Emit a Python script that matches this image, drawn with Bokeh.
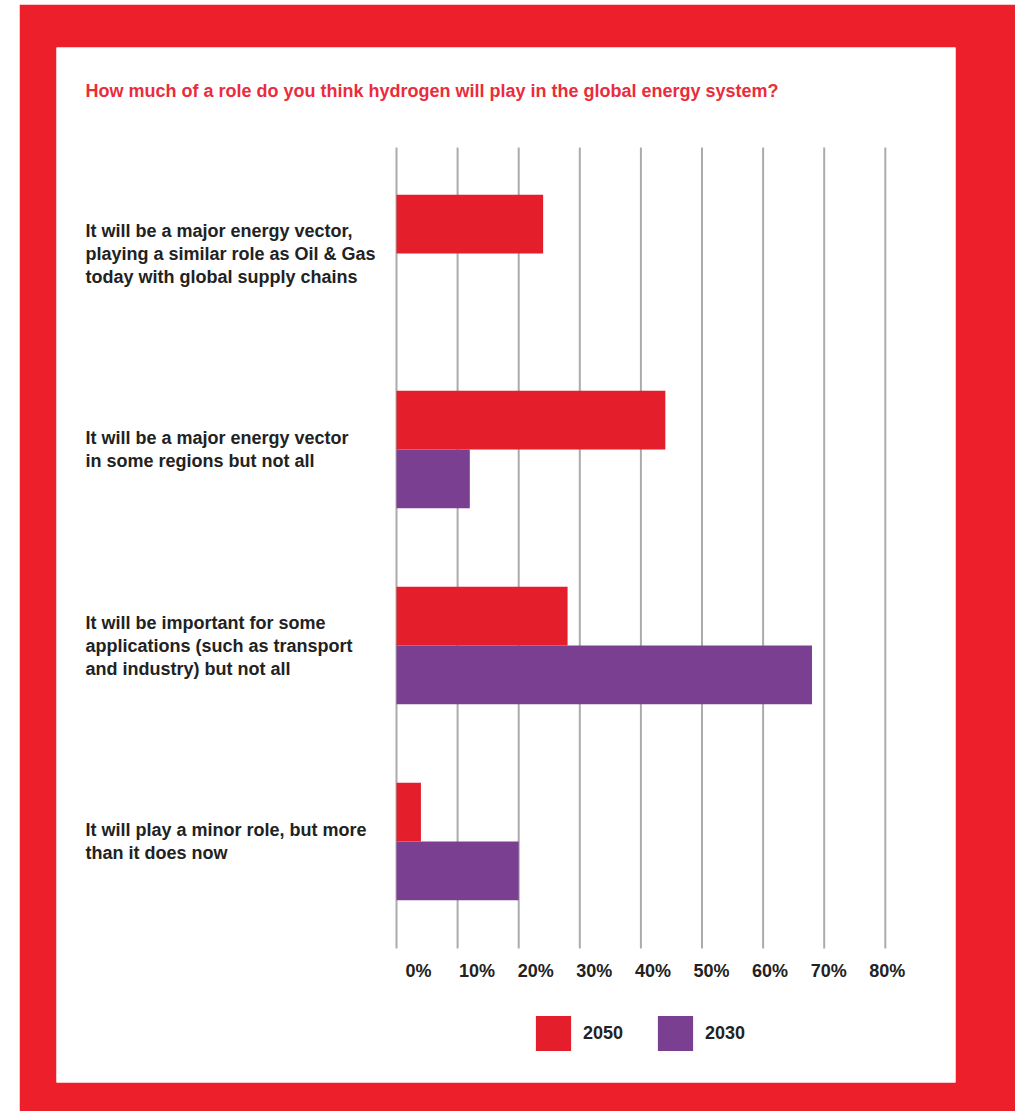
from bokeh.plotting import figure
from bokeh.models import ColumnDataSource, Range1d
from bokeh.core.properties import value
from bokeh.embed import file_html
from bokeh.resources import INLINE

# ---------------- data ----------------
title_text = "How much of a role do you think hydrogen will play in the global energy system?"
categories = [
    "It will be a major energy vector,\nplaying a similar role as Oil & Gas\ntoday with global supply chains",
    "It will be a major energy vector\nin some regions but not all",
    "It will be important for some\napplications (such as transport\nand industry) but not all",
    "It will play a minor role, but more\nthan it does now",
]
series_names = ["2050", "2030"]
values_2050 = [24, 44, 28, 4]
values_2030 = [0, 12, 68, 20]
tick_values = [0, 10, 20, 30, 40, 50, 60, 70, 80]
tick_labels = ["0%", "10%", "20%", "30%", "40%", "50%", "60%", "70%", "80%"]

# ---------------- styling / geometry ----------------
RED_BORDER = "#EC1F2A"
RED_BAR = "#E41E2A"
PURPLE = "#7B3F92"
TITLE_RED = "#EA2C3C"
TEXT = "#222222"
GRID = "#ABABAB"
FONT = value("Liberation Sans")


def kx(px):
    # page x pixel -> data x (percent)
    return (px - 396) / 6.11


def ky(px):
    # page y pixel -> data y (category index)
    return (px - 253) / 196.0


p = figure(
    width=996, height=1107,
    x_range=Range1d(kx(56), kx(955)),
    y_range=Range1d(ky(1082), ky(47)),
    output_backend="svg", toolbar_location=None,
    min_border_left=37, min_border_right=60, min_border_top=43, min_border_bottom=29,
    border_fill_color=RED_BORDER, background_fill_color="white",
    outline_line_color=None,
)
p.margin = (4, 0, 0, 19)
p.axis.visible = False
p.grid.visible = False

# grid lines
p.segment(x0=tick_values, y0=ky(147), x1=tick_values, y1=ky(948),
          line_color=GRID, line_width=2)

idx = list(range(len(categories)))
bar_h = 0.30
src = ColumnDataSource(dict(
    y50=[i - bar_h / 2 for i in idx],
    y30=[i + bar_h / 2 for i in idx],
    v50=values_2050,
    v30=values_2030,
))
p.hbar(y="y50", left=0, right="v50", height=bar_h, source=src,
       fill_color=RED_BAR, line_color=None, legend_label=series_names[0])
p.hbar(y="y30", left=0, right="v30", height=bar_h, source=src,
       fill_color=PURPLE, line_color=None, legend_label=series_names[1])

# category labels
p.text(x=kx(85), y=idx, text=categories, text_font=FONT, text_font_style="bold",
       text_font_size="18px", text_color=TEXT, text_align="left",
       text_baseline="middle", text_line_height=1.15)

# title
p.text(x=[kx(85)], y=[ky(90)], text=[title_text], text_font=FONT,
       text_font_style="bold", text_font_size="18px", text_color=TITLE_RED,
       text_align="left", text_baseline="middle")

# x tick labels
tsrc = ColumnDataSource(dict(
    x=tick_values, text=tick_labels,
    off=[22 - 0.25 * v for v in tick_values],
))
p.text(x="x", y=ky(970), text="text", x_offset="off", source=tsrc,
       text_font=FONT, text_font_style="bold", text_font_size="18px",
       text_color=TEXT, text_align="center", text_baseline="middle")

# legend
lg = p.legend[0]
lg.location = (531 - 56, 1082 - 1055)
lg.orientation = "horizontal"
lg.glyph_width = 44
lg.glyph_height = 44
lg.label_standoff = 8
lg.spacing = 30
lg.padding = 0
lg.margin = 0
lg.border_line_alpha = 0
lg.background_fill_alpha = 0
lg.label_text_font = "Liberation Sans"
lg.label_text_font_style = "bold"
lg.label_text_font_size = "18px"
lg.label_text_color = TEXT
lg.label_text_baseline = "middle"

open("out.html", "w").write(file_html(p, INLINE))
